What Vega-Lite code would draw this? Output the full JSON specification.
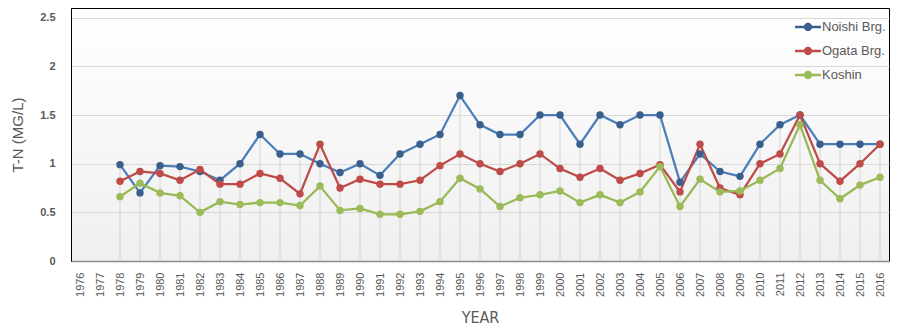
{
  "$schema": "https://vega.github.io/schema/vega-lite/v6.json",
  "width": 818,
  "height": 253,
  "autosize": {"type": "none"},
  "padding": {"left": 71, "top": 8, "right": 13, "bottom": 66},
  "background": "#ffffff",
  "config": {
    "view": {
      "stroke": "#000000",
      "strokeWidth": 1,
      "fill": {"gradient": "linear", "x1": 0, "y1": 0, "x2": 0, "y2": 1, "stops": [{"offset": 0, "color": "#ffffff"}, {"offset": 1, "color": "#efefef"}]}
    },
    "font": "Liberation Sans"
  },
  "data": {
    "values": [
      {"year": "1978", "Noishi Brg": 0.99, "Ogata Brg": 0.82, "Koshin": 0.66},
      {"year": "1979", "Noishi Brg": 0.70, "Ogata Brg": 0.92, "Koshin": 0.80},
      {"year": "1980", "Noishi Brg": 0.98, "Ogata Brg": 0.90, "Koshin": 0.70},
      {"year": "1981", "Noishi Brg": 0.97, "Ogata Brg": 0.83, "Koshin": 0.67},
      {"year": "1982", "Noishi Brg": 0.92, "Ogata Brg": 0.94, "Koshin": 0.50},
      {"year": "1983", "Noishi Brg": 0.83, "Ogata Brg": 0.79, "Koshin": 0.61},
      {"year": "1984", "Noishi Brg": 1.00, "Ogata Brg": 0.79, "Koshin": 0.58},
      {"year": "1985", "Noishi Brg": 1.30, "Ogata Brg": 0.90, "Koshin": 0.60},
      {"year": "1986", "Noishi Brg": 1.10, "Ogata Brg": 0.85, "Koshin": 0.60},
      {"year": "1987", "Noishi Brg": 1.10, "Ogata Brg": 0.69, "Koshin": 0.57},
      {"year": "1988", "Noishi Brg": 1.00, "Ogata Brg": 1.20, "Koshin": 0.77},
      {"year": "1989", "Noishi Brg": 0.91, "Ogata Brg": 0.75, "Koshin": 0.52},
      {"year": "1990", "Noishi Brg": 1.00, "Ogata Brg": 0.84, "Koshin": 0.54},
      {"year": "1991", "Noishi Brg": 0.88, "Ogata Brg": 0.79, "Koshin": 0.48},
      {"year": "1992", "Noishi Brg": 1.10, "Ogata Brg": 0.79, "Koshin": 0.48},
      {"year": "1993", "Noishi Brg": 1.20, "Ogata Brg": 0.83, "Koshin": 0.51},
      {"year": "1994", "Noishi Brg": 1.30, "Ogata Brg": 0.98, "Koshin": 0.61},
      {"year": "1995", "Noishi Brg": 1.70, "Ogata Brg": 1.10, "Koshin": 0.85},
      {"year": "1996", "Noishi Brg": 1.40, "Ogata Brg": 1.00, "Koshin": 0.74},
      {"year": "1997", "Noishi Brg": 1.30, "Ogata Brg": 0.92, "Koshin": 0.56},
      {"year": "1998", "Noishi Brg": 1.30, "Ogata Brg": 1.00, "Koshin": 0.65},
      {"year": "1999", "Noishi Brg": 1.50, "Ogata Brg": 1.10, "Koshin": 0.68},
      {"year": "2000", "Noishi Brg": 1.50, "Ogata Brg": 0.95, "Koshin": 0.72},
      {"year": "2001", "Noishi Brg": 1.20, "Ogata Brg": 0.86, "Koshin": 0.60},
      {"year": "2002", "Noishi Brg": 1.50, "Ogata Brg": 0.95, "Koshin": 0.68},
      {"year": "2003", "Noishi Brg": 1.40, "Ogata Brg": 0.83, "Koshin": 0.60},
      {"year": "2004", "Noishi Brg": 1.50, "Ogata Brg": 0.90, "Koshin": 0.71},
      {"year": "2005", "Noishi Brg": 1.50, "Ogata Brg": 0.99, "Koshin": 0.97},
      {"year": "2006", "Noishi Brg": 0.81, "Ogata Brg": 0.71, "Koshin": 0.56},
      {"year": "2007", "Noishi Brg": 1.10, "Ogata Brg": 1.20, "Koshin": 0.84},
      {"year": "2008", "Noishi Brg": 0.92, "Ogata Brg": 0.75, "Koshin": 0.71},
      {"year": "2009", "Noishi Brg": 0.87, "Ogata Brg": 0.68, "Koshin": 0.72},
      {"year": "2010", "Noishi Brg": 1.20, "Ogata Brg": 1.00, "Koshin": 0.83},
      {"year": "2011", "Noishi Brg": 1.40, "Ogata Brg": 1.10, "Koshin": 0.95},
      {"year": "2012", "Noishi Brg": 1.50, "Ogata Brg": 1.50, "Koshin": 1.40},
      {"year": "2013", "Noishi Brg": 1.20, "Ogata Brg": 1.00, "Koshin": 0.83},
      {"year": "2014", "Noishi Brg": 1.20, "Ogata Brg": 0.82, "Koshin": 0.64},
      {"year": "2015", "Noishi Brg": 1.20, "Ogata Brg": 1.00, "Koshin": 0.78},
      {"year": "2016", "Noishi Brg": 1.20, "Ogata Brg": 1.20, "Koshin": 0.86}
    ]
  },
  "transform": [
    {"fold": ["Noishi Brg", "Ogata Brg", "Koshin"], "as": ["site", "value"]}
  ],
  "encoding": {
    "x": {
      "field": "year",
      "type": "ordinal",
      "scale": {
        "type": "point",
        "padding": 0.45,
        "domain": ["1976","1977","1978","1979","1980","1981","1982","1983","1984","1985","1986","1987","1988","1989","1990","1991","1992","1993","1994","1995","1996","1997","1998","1999","2000","2001","2002","2003","2004","2005","2006","2007","2008","2009","2010","2011","2012","2013","2014","2015","2016"]
      },
      "axis": {
        "title": "YEAR",
        "titleFont": "DejaVu Sans Condensed",
        "titleFontSize": 16,
        "titleFontWeight": "normal",
        "titleColor": "#595959",
        "titlePadding": 13,
        "labelAngle": 270,
        "labelAlign": "right",
        "labelBaseline": "middle",
        "labelFontSize": 11,
        "labelColor": "#595959",
        "labelPadding": 11,
        "ticks": false,
        "grid": false,
        "domainColor": "#8c8c8c",
        "domainWidth": 1.5
      }
    }
  },
  "layer": [
    {
      "mark": {"type": "rule", "color": "#d4d4d4", "strokeWidth": 1},
      "encoding": {
        "y": {"aggregate": "max", "field": "value", "type": "quantitative", "scale": {"domain": [0, 2.5]}},
        "y2": {"datum": 0}
      }
    },
    {
      "mark": {"type": "line", "strokeWidth": 2.25},
      "encoding": {
        "y": {
          "field": "value",
          "type": "quantitative",
          "scale": {"domain": [0, 2.5]},
          "axis": {
            "title": "T-N (MG/L)",
            "titleFontSize": 15,
            "titleFontWeight": "normal",
            "titleColor": "#595959",
            "titlePadding": 14,
            "values": [0, 0.5, 1, 1.5, 2, 2.5],
            "labelExpr": "datum.value",
            "labelFontSize": 11,
            "labelFontWeight": "bold",
            "labelColor": "#595959",
            "labelPadding": 16,
            "ticks": false,
            "grid": true,
            "gridColor": "#d9d9d9",
            "domainColor": "#000000"
          }
        },
        "color": {
          "field": "site",
          "type": "nominal",
          "scale": {"domain": ["Noishi Brg", "Ogata Brg", "Koshin"], "range": ["#4a7ebb", "#be4b48", "#98b954"]},
          "legend": null
        }
      }
    },
    {
      "mark": {"type": "point", "filled": true, "size": 55, "opacity": 1},
      "encoding": {
        "y": {"field": "value", "type": "quantitative"},
        "color": {
          "field": "site",
          "type": "nominal",
          "scale": {"domain": ["Noishi Brg", "Ogata Brg", "Koshin"], "range": ["#3a5f8c", "#be4b48", "#9bbb59"]},
          "legend": {
            "title": null,
            "orient": "none",
            "legendX": 724,
            "legendY": 6,
            "padding": 0,
            "symbolType": "M-1,-0.09 H1 V0.09 H-1 Z M0.32,0 A0.32,0.32 0 1,1 -0.32,0 A0.32,0.32 0 1,1 0.32,0 Z",
            "symbolSize": 676,
            "symbolStrokeWidth": 0,
            "symbolOpacity": 1,
            "labelExpr": "datum.label == 'Koshin' ? 'Koshin' : datum.label + '.'",
            "labelFontSize": 13,
            "labelColor": "#595959",
            "labelOffset": 1,
            "rowPadding": 4
          }
        }
      }
    }
  ],
  "resolve": {"scale": {"color": "independent"}}
}
